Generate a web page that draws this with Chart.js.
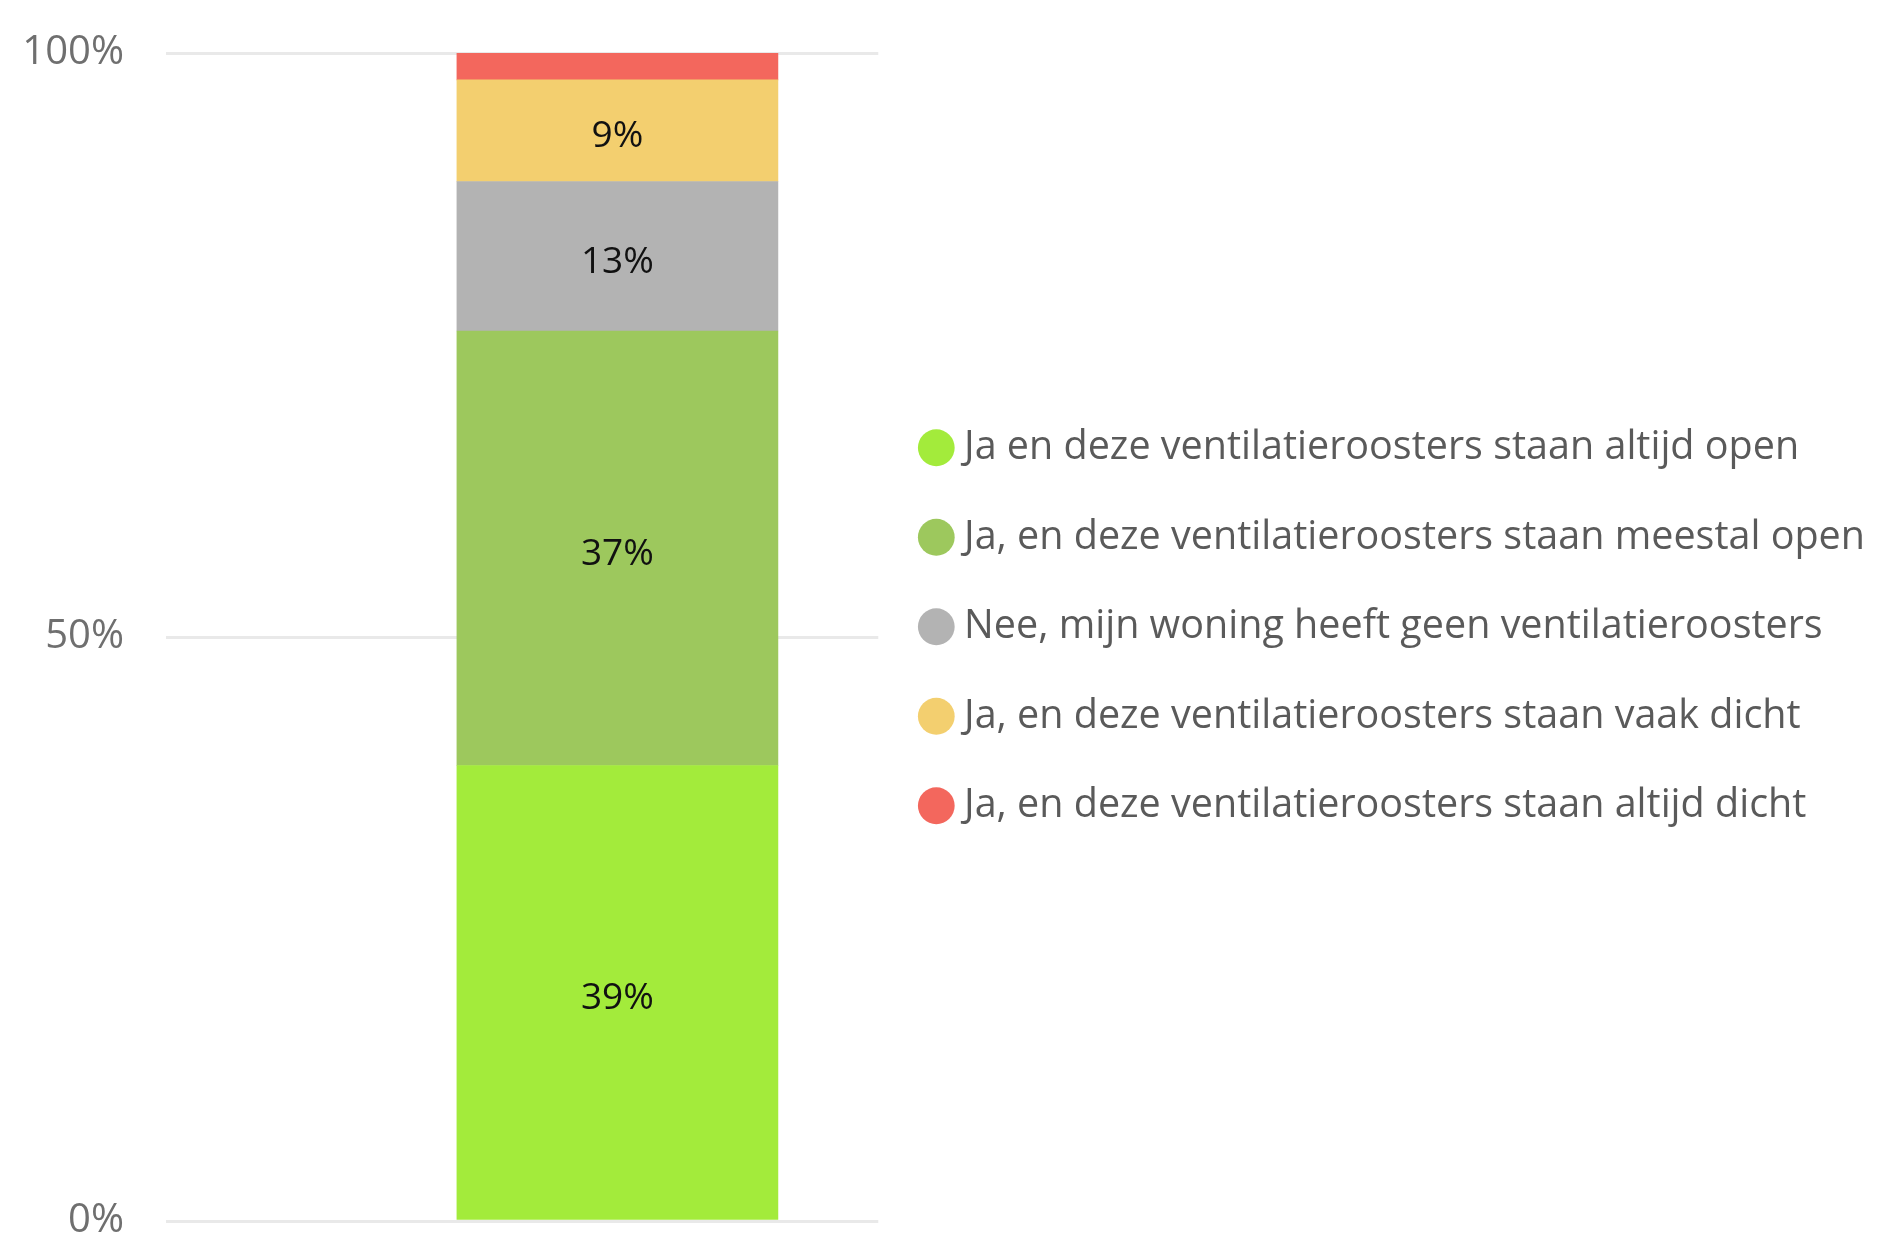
<!DOCTYPE html>
<html>
<head>
<meta charset="utf-8">
<script src="https://cdn.jsdelivr.net/npm/chart.js@4/dist/chart.umd.min.js"></script>
<style>
  html, body { margin: 0; padding: 0; background: #fff; }
  #wrap { width: 1900px; height: 1238px; }
</style>
</head>
<body>
<div id="wrap"><canvas id="chart" width="1900" height="1238"></canvas></div>
<script>
// one stacked column, shares in percent (bottom to top)
const categories = ['Ventilatieroosters'];
const seriesNames = [
  'Ja en deze ventilatieroosters staan altijd open',
  'Ja, en deze ventilatieroosters staan meestal open',
  'Nee, mijn woning heeft geen ventilatieroosters',
  'Ja, en deze ventilatieroosters staan vaak dicht',
  'Ja, en deze ventilatieroosters staan altijd dicht'
];
const seriesValues = [39.0, 37.2, 12.8, 8.7, 2.3];
const seriesColors = ['#A3EB3B', '#9DC85D', '#B3B3B3', '#F3CF6F', '#F3675D'];
const yTicks = [0, 50, 100];

// draws the rounded percentage in the middle of each segment
const segmentLabels = {
  id: 'segmentLabels',
  afterDatasetsDraw(chart) {
    const ctx = chart.ctx;
    ctx.save();
    ctx.font = '37px "Open Sans"';
    ctx.fillStyle = '#111';
    ctx.textAlign = 'center';
    ctx.textBaseline = 'middle';
    chart.data.datasets.forEach((ds, i) => {
      const meta = chart.getDatasetMeta(i);
      meta.data.forEach((bar, j) => {
        const v = ds.data[j].y;
        if (v < 5) return;
        const p = bar.getCenterPoint();
        ctx.fillText(Math.round(v) + '%', p.x, p.y + 6);
      });
    });
    ctx.restore();
  }
};

function draw() {
  const datasets = seriesNames.map((name, i) => ({
    label: name,
    data: categories.map((c, k) => ({ x: k, y: seriesValues[i] })),
    backgroundColor: seriesColors[i],
    borderWidth: 0,
    barThickness: 321
  }));

  new Chart(document.getElementById('chart'), {
    type: 'bar',
    data: { datasets },
    plugins: [segmentLabels],
    options: {
      responsive: false,
      animation: false,
      layout: { padding: { left: 22, top: 53, bottom: 17, right: 25 } },
      scales: {
        x: {
          type: 'linear',
          stacked: true,
          min: -0.6605,
          max: 0.3395,
          display: false
        },
        y: {
          stacked: true,
          min: 0,
          max: 100,
          afterBuildTicks: (axis) => { axis.ticks = yTicks.map(v => ({ value: v })); },
          afterFit: (axis) => {
            axis.width = 144;
            axis.paddingTop = 16;
            axis.paddingBottom = 16;
          },
          border: { display: false },
          grid: { color: '#E9E9E9', lineWidth: 3, drawTicks: false },
          ticks: {
            padding: 42,
            color: '#6F6F6F',
            font: { family: '"Open Sans"', size: 40, lineHeight: 0.8 },
            callback: (v) => v + '%'
          }
        }
      },
      plugins: {
        tooltip: { enabled: false },
        legend: {
          position: 'right',
          align: 'start',
          maxWidth: 1100,
          title: { display: true, text: '', font: { size: 10 }, padding: { top: 313, bottom: 0 } },
          labels: {
            usePointStyle: true,
            pointStyle: 'circle',
            boxWidth: 16,
            boxHeight: 26,
            padding: 50,
            color: '#5A5A5A',
            font: { family: '"Open Sans"', size: 39.5 }
          }
        }
      }
    }
  });
}

// make sure the local font is measured, not a fallback
Promise.all([
  document.fonts.load('39.5px "Open Sans"'),
  document.fonts.load('40px "Open Sans"'),
  document.fonts.load('37px "Open Sans"')
]).then(draw, draw);
</script>
</body>
</html>
